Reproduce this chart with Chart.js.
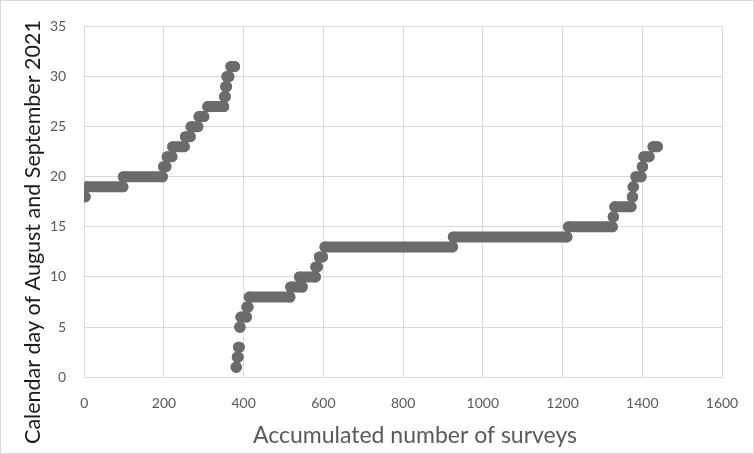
<!DOCTYPE html>
<html>
<head>
<meta charset="utf-8">
<script src="https://cdn.jsdelivr.net/npm/chart.js@4"></script>
<style>
  body { margin: 0; background: #fff; }
  #wrap { width: 754px; height: 454px; }
</style>
</head>
<body>
<div id="wrap"><canvas id="surveyChart" width="754" height="454"></canvas></div>
<script>
// each run: surveys that share the same calendar day (first and last survey index)
const days     = [18, 19, 20, 21, 22, 23, 24, 25, 26, 27, 28, 29, 30, 31,
                  1, 2, 3, 5, 6, 7, 8, 9, 10, 11, 12, 13, 14, 15, 16, 17, 18, 19, 20, 21, 22, 23];
const runStart = [2, 6, 98, 199, 208, 222, 254, 268, 288, 310, 352, 355, 358, 368,
                  381, 384, 387, 390, 393, 408, 414, 518, 540, 581, 590, 604, 926, 1215, 1327, 1331, 1375, 1377, 1384, 1400, 1404, 1427];
const runEnd   = [2, 97, 196, 205, 220, 251, 266, 285, 300, 350, 354, 357, 363, 377,
                  382, 386, 389, 391, 407, 411, 516, 547, 580, 585, 598, 924, 1211, 1325, 1328, 1372, 1376, 1378, 1397, 1401, 1417, 1438];

const xTicks = [0, 200, 400, 600, 800, 1000, 1200, 1400, 1600];
const yTicks = [0, 5, 10, 15, 20, 25, 30, 35];
const xTitle = "Accumulated number of surveys";
const yTitle = "Calendar day of August and September 2021";

const points = [];
days.forEach(function (d, i) {
    points.push({ x: runStart[i], y: d });
    points.push({ x: runEnd[i], y: d });
    points.push({ x: runEnd[i], y: null }); // break between runs
});

// white background, thin outer border and the two axis titles
const frame = {
    id: "frame",
    beforeDraw: function (chart) {
        const ctx = chart.ctx;
        ctx.save();
        ctx.fillStyle = "#fff";
        ctx.fillRect(0, 0, chart.width, chart.height);
        ctx.strokeStyle = "#d9d9d9";
        ctx.lineWidth = 1;
        ctx.strokeRect(0.5, 0.5, chart.width - 1, chart.height - 1);
        ctx.restore();
    },
    afterDraw: function (chart) {
        const ctx = chart.ctx;
        ctx.save();
        ctx.textAlign = "center";
        ctx.textBaseline = "middle";
        ctx.fillStyle = "#595959";
        ctx.font = "23px Lato";
        ctx.fillText(xTitle, 415, 436);
        ctx.translate(33, 232);
        ctx.rotate(-Math.PI / 2);
        ctx.fillStyle = "#1a1a1a";
        ctx.font = "21.5px Lato";
        ctx.fillText(yTitle, 0, 0);
        ctx.restore();
    }
};

const gridColor = "#d9d9d9";
const tickFont = { family: "Lato", size: 14 };

new Chart(document.getElementById("surveyChart").getContext("2d"), {
    type: "scatter",
    data: {
        datasets: [{
            data: points,
            showLine: true,
            spanGaps: false,
            borderColor: "#6b6b6b",
            borderWidth: 11,
            borderCapStyle: "round",
            borderJoinStyle: "round",
            backgroundColor: "#6b6b6b",
            pointRadius: 5.5,
            pointBorderWidth: 0,
            pointHoverRadius: 5.5
        }]
    },
    options: {
        responsive: false,
        animation: false,
        devicePixelRatio: 1,
        layout: { padding: { top: 16, right: 32, left: 32, bottom: 24 } },
        plugins: {
            legend: { display: false },
            tooltip: { enabled: false }
        },
        scales: {
            x: {
                type: "linear",
                min: 0,
                max: 1600,
                afterBuildTicks: function (axis) { axis.ticks = xTicks.map(function (v) { return { value: v }; }); },
                afterFit: function (axis) { axis.paddingRight = 0; },
                grid: { color: gridColor, drawTicks: false },
                border: { color: gridColor },
                ticks: { color: "#595959", font: tickFont, padding: 18, callback: function (v) { return String(v); } }
            },
            y: {
                min: 0,
                max: 35,
                afterBuildTicks: function (axis) { axis.ticks = yTicks.map(function (v) { return { value: v }; }); },
                grid: { color: gridColor, drawTicks: false },
                border: { display: false },
                ticks: { color: "#595959", font: tickFont, padding: 18, callback: function (v) { return String(v); } }
            }
        }
    },
    plugins: [frame]
});
</script>
</body>
</html>
